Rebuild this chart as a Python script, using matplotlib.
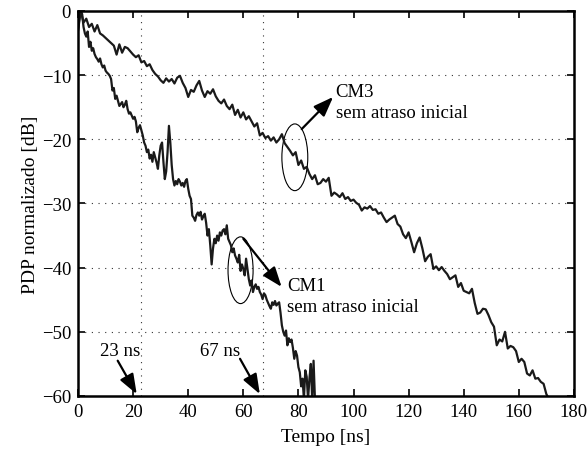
import matplotlib
matplotlib.use("Agg")
import matplotlib.pyplot as plt
from matplotlib.patches import Ellipse

plt.rcParams['font.family'] = ['Liberation Serif', 'DejaVu Serif']

# CM3 curve: time [ns] and normalized PDP [dB]
cm3_t = list(range(0, 172))
cm3_db = [-3.0, 0.0, -1.8, -1.2, -2.5, -2.0, -3.2, -2.2, -3.5, -3.8,
          -4.2, -4.6, -5.0, -5.4, -6.8, -5.2, -6.5, -5.6, -5.8, -6.3,
          -6.8, -7.2, -6.9, -8.0, -7.8, -8.6, -8.3, -9.2, -9.8, -10.2,
          -10.8, -11.2, -10.5, -11.0, -10.6, -11.3, -10.4, -10.1, -11.2, -12.0,
          -13.4, -12.3, -12.6, -11.6, -10.9, -12.4, -13.4, -12.5, -12.9, -12.2,
          -13.3, -14.0, -14.4, -13.8, -14.8, -15.3, -14.6, -16.2, -15.4, -16.6,
          -15.8, -16.9, -16.4, -17.2, -18.0, -17.5, -19.4, -19.0, -19.8, -19.5,
          -20.2, -19.7, -20.5, -20.0, -19.2, -20.6, -21.2, -21.8, -22.5, -22.0,
          -24.0, -23.3, -24.6, -24.3, -25.4, -26.2, -25.6, -27.0, -26.8, -26.2,
          -26.6, -26.0, -28.8, -28.3, -28.6, -29.0, -28.4, -29.3, -29.0, -29.6,
          -29.4, -29.9, -30.2, -31.1, -30.6, -30.8, -30.4, -31.0, -30.9, -31.6,
          -31.4, -32.2, -32.9, -32.5, -32.2, -31.9, -33.2, -33.6, -34.8, -35.4,
          -34.5, -36.0, -37.6, -36.2, -35.3, -37.0, -39.0, -38.3, -37.9, -40.2,
          -39.8, -40.4, -39.9, -40.5, -41.0, -41.8, -41.5, -41.2, -43.0, -42.4,
          -43.6, -43.8, -44.0, -43.3, -45.5, -47.2, -47.0, -46.4, -46.5, -47.4,
          -48.5, -49.2, -52.1, -51.2, -51.5, -50.0, -52.6, -52.2, -52.4, -53.0,
          -54.7, -54.2, -54.7, -56.5, -56.8, -56.0, -57.3, -57.2, -57.8, -58.1,
          -59.7, -60.5]

# CM1 curve: time [ns] (0.5 ns step) and normalized PDP [dB]
cm1_t = [i * 0.5 for i in range(0, 173)]
cm1_db = [-3.0, -1.0, 0.0, -0.5, -2.5, -3.5, -4.0, -3.2, -5.6, -4.8,
          -6.2, -5.8, -6.7, -7.2, -7.5, -7.9, -7.4, -8.3, -8.8, -8.5,
          -9.3, -9.6, -9.8, -10.1, -10.6, -12.4, -12.0, -13.7, -13.2, -14.0,
          -14.8, -14.5, -14.2, -15.0, -14.6, -14.0, -15.3, -16.0, -15.8, -16.3,
          -16.8, -16.5, -17.2, -18.9, -18.2, -17.8, -18.6, -19.4, -20.5, -21.0,
          -22.0, -21.6, -23.0, -22.4, -23.5, -22.0, -22.8, -23.6, -24.6, -22.5,
          -21.0, -20.5, -23.5, -26.2, -25.0, -22.0, -17.9, -20.5, -24.0, -26.2,
          -27.2, -26.5, -27.0, -26.2, -26.6, -27.2, -26.8, -27.4, -26.5, -26.2,
          -27.7, -28.8, -29.3, -31.9, -32.2, -32.7, -31.8, -31.4, -31.9, -31.3,
          -32.5, -32.0, -31.6, -33.0, -35.0, -34.0, -36.5, -39.5, -37.0, -35.5,
          -36.2, -35.0, -35.8, -34.5, -35.0, -34.2, -34.0, -34.8, -33.4, -35.5,
          -36.0, -36.5, -37.6, -37.0, -38.1, -38.6, -39.2, -38.0, -40.5, -39.5,
          -40.2, -41.2, -38.6, -40.2, -41.8, -42.8, -42.0, -43.8, -43.0, -42.6,
          -43.3, -43.0, -43.8, -44.2, -44.9, -44.0, -44.3, -45.0, -45.5, -46.0,
          -46.4, -45.4, -45.8, -45.2, -45.9, -45.6, -45.4, -47.0, -49.0, -50.0,
          -50.6, -49.8, -52.1, -51.0, -51.6, -51.2, -52.5, -54.2, -53.0, -53.7,
          -55.5, -56.3, -58.5, -57.3, -60.5, -56.0, -57.0, -60.5, -57.3, -55.0,
          -60.5, -54.5, -60.5]

x_ticks = [0, 20, 40, 60, 80, 100, 120, 140, 160, 180]
y_ticks = [-60, -50, -40, -30, -20, -10, 0]
marker_times = [23, 67]

fig = plt.figure(figsize=(5.88, 4.52), dpi=100)
ax = fig.add_axes([0.1327, 0.1217, 0.8433, 0.8518])

ax.plot(cm3_t, cm3_db, color='#1a1a1a', lw=1.6, clip_on=True)
ax.plot(cm1_t, cm1_db, color='#1a1a1a', lw=1.6, clip_on=True)

ax.set_xlim(0, 180)
ax.set_ylim(-60, 0)
ax.set_xticks(x_ticks)
ax.set_yticks(y_ticks)
ax.set_yticklabels([f"\u2212{abs(v)}" if v < 0 else str(v) for v in y_ticks])

dot = (0, (1, 5))
for yv in y_ticks[1:-1]:
    ax.axhline(yv, color='#333333', lw=0.8, ls=dot, zorder=0)
for xv in marker_times:
    ax.axvline(xv, color='#333333', lw=0.8, ls=dot, zorder=0)

ax.tick_params(direction='in', length=5, width=1.2, top=True, right=True,
               labelsize=13.5, pad=5)
for s in ax.spines.values():
    s.set_linewidth(1.8)

ax.set_xlabel('Tempo [ns]', fontsize=14, labelpad=6)
ax.set_ylabel('PDP normalizado [dB]', fontsize=14, labelpad=2)

# ellipses
ax.add_patch(Ellipse((78.7, -22.8), 9.4, 10.4, fill=False, lw=0.8, color='black'))
ax.add_patch(Ellipse((59.0, -40.4), 9.1, 10.4, fill=False, lw=0.8, color='black'))

arrow = dict(arrowstyle='-|>,head_width=0.45,head_length=1.2', color='black',
             lw=1.6, shrinkA=0, shrinkB=0)

fs = 13.5
ax.annotate('', xy=(92.6, -13.4), xytext=(81.2, -18.4), arrowprops=arrow)
ax.text(93.5, -12.6, 'CM3', fontsize=fs, va='center', ha='left')
ax.text(93.5, -15.8, 'sem atraso inicial', fontsize=fs, va='center', ha='left')

ax.annotate('', xy=(73.9, -43.0), xytext=(60.0, -35.5), arrowprops=arrow)
ax.text(76.0, -42.8, 'CM1', fontsize=fs, va='center', ha='left')
ax.text(76.0, -46.0, 'sem atraso inicial', fontsize=fs, va='center', ha='left')

ax.annotate('', xy=(21.3, -59.7), xytext=(14.4, -54.5), arrowprops=arrow)
ax.text(15.2, -52.9, '23 ns', fontsize=fs, va='center', ha='center')
ax.annotate('', xy=(66.0, -59.7), xytext=(58.8, -54.2), arrowprops=arrow)
ax.text(51.7, -52.9, '67 ns', fontsize=fs, va='center', ha='center')

fig.savefig('out.png', dpi=100)
